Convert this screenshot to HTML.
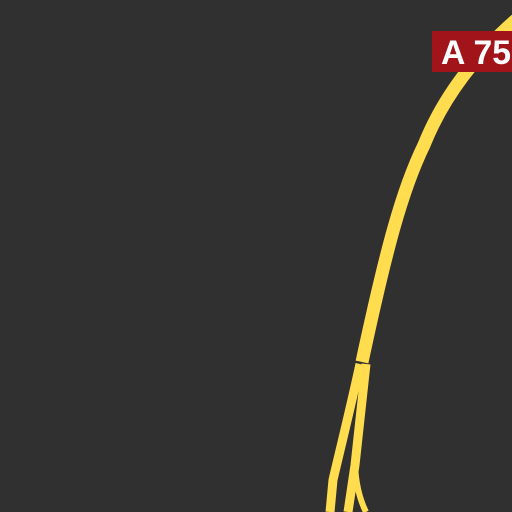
<!DOCTYPE html>
<html><head><style>
html,body{margin:0;padding:0;background:#303030;width:512px;height:512px;overflow:hidden}
svg{display:block}
</style></head><body>
<svg width="512" height="512">
<rect width="512" height="512" fill="#303030"/>
<g fill="none" stroke="#ffdd4f" stroke-linecap="butt">
<path d="M518,18 C472,58 442,100 424,145 C402,190 386,250 362,362" stroke-width="13"/>
<path d="M360,364 C350,410 340,450 333,480 L330,512" stroke-width="9"/>
<path d="M366,364 C362,400 358,440 355,465 L348,512" stroke-width="9"/>
<path d="M355,465 C356,485 360,500 366,512" stroke-width="6"/>
</g>
<rect x="432" y="31" width="82" height="41" fill="#a0141a"/>
<text x="441" y="64" fill="#fff" font-family="Liberation Sans, sans-serif" font-weight="bold" font-size="34" textLength="70" lengthAdjust="spacingAndGlyphs">A 75</text>
</svg>
</body></html>
